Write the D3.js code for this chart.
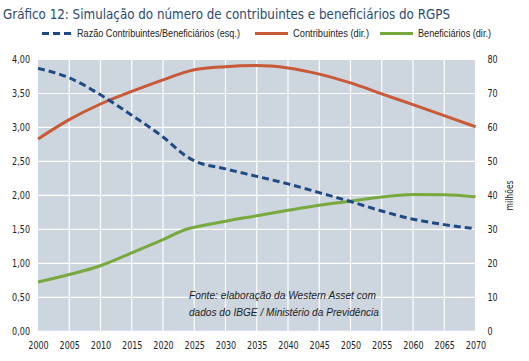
<!DOCTYPE html>
<html>
<head>
<meta charset="utf-8">
<script src="https://cdn.jsdelivr.net/npm/d3@7"></script>
<style>
  body { margin: 0; background: #fff; }
  svg text { font-family: "Liberation Sans", Arial, sans-serif; }
</style>
</head>
<body>
<div id="chart"></div>
<script>
// anos e series
var years = [2000, 2005, 2010, 2015, 2020, 2024, 2025, 2030, 2035, 2040, 2045, 2050, 2055, 2060, 2065, 2070];
var razao = [3.87, 3.73, 3.48, 3.18, 2.86, 2.56, 2.51, 2.39, 2.28, 2.17, 2.04, 1.91, 1.77, 1.65, 1.57, 1.51];
var contribuintes = [56.6, 62.3, 66.9, 70.6, 74.0, 76.5, 77.0, 77.9, 78.2, 77.5, 75.7, 73.1, 69.9, 66.7, 63.5, 60.2];
var beneficiarios = [14.5, 16.7, 19.3, 23.1, 27.0, 30.2, 30.6, 32.4, 34.0, 35.6, 37.1, 38.3, 39.5, 40.3, 40.2, 39.6];

var xTicks = d3.range(2000, 2071, 5);
var leftTicks = d3.range(0, 4.01, 0.5);
var rightTicks = d3.range(0, 81, 10);

var width = 529, height = 361;
var margin = {top: 59.5, right: 53.5, bottom: 29.5, left: 38};
var narrow = "'DejaVu Sans Condensed', sans-serif";

var svg = d3.select("#chart").append("svg")
    .attr("width", width)
    .attr("height", height);

var x = d3.scaleLinear().domain([2000, 2070]).range([margin.left, width - margin.right]);
var yL = d3.scaleLinear().domain([0, 4]).range([height - margin.bottom - 0.2, margin.top]);
var yR = d3.scaleLinear().domain([0, 80]).range([height - margin.bottom - 0.2, margin.top]);

// titulo
svg.append("text")
    .attr("x", 3).attr("y", 19)
    .attr("fill", "#2b4a6f")
    .style("font-family", narrow)
    .style("font-size", "14.5px")
    .attr("textLength", 447).attr("lengthAdjust", "spacingAndGlyphs")
    .text("Gráfico 12: Simulação do número de contribuintes e beneficiários do RGPS");

// fundo da area do grafico
svg.append("rect")
    .attr("x", x(2000)).attr("y", yL(4))
    .attr("width", x(2070) - x(2000))
    .attr("height", yL(0) - yL(4))
    .attr("fill", "#cdd5de");

// grade
svg.append("g").selectAll("line").data(xTicks.slice(1)).enter().append("line")
    .attr("x1", d => x(d)).attr("x2", d => x(d))
    .attr("y1", yL(4)).attr("y2", yL(0))
    .attr("stroke", "#fff").attr("stroke-width", 1.2);

svg.append("g").selectAll("line").data(leftTicks).enter().append("line")
    .attr("x1", x(2000)).attr("x2", x(2070) + 2)
    .attr("y1", d => yL(d)).attr("y2", d => yL(d))
    .attr("stroke", "#fff").attr("stroke-width", 1.2);

// eixos
var xAxis = svg.append("g")
    .attr("transform", "translate(0," + yL(0) + ")")
    .call(d3.axisBottom(x).tickValues(xTicks).tickFormat(d3.format("d")).tickSize(0).tickPadding(10));
var leftAxis = svg.append("g")
    .attr("transform", "translate(" + (x(2000) - 8) + ",0)")
    .call(d3.axisLeft(yL).tickValues(leftTicks).tickFormat(d => d3.format(".2f")(d).replace(".", ",")).tickSize(0).tickPadding(0));
var rightAxis = svg.append("g")
    .attr("transform", "translate(" + (x(2070) + 12) + ",0)")
    .call(d3.axisRight(yR).tickValues(rightTicks).tickSize(0).tickPadding(0));

[xAxis, leftAxis, rightAxis].forEach(function(g) {
    g.select(".domain").remove();
    g.selectAll("text").attr("fill", "#222").style("font-size", "10.5px")
        .style("font-family", narrow)
        .each(function() {
            // letra mais estreita, como no original
            var w = this.getComputedTextLength();
            d3.select(this).attr("textLength", w * 0.85).attr("lengthAdjust", "spacingAndGlyphs");
        });
});

svg.append("text")
    .attr("transform", "translate(513," + yR(40) + ") rotate(-90)")
    .attr("text-anchor", "middle")
    .attr("fill", "#222")
    .style("font-family", narrow)
    .style("font-size", "11px")
    .attr("textLength", 30).attr("lengthAdjust", "spacingAndGlyphs")
    .text("milhões");

// linhas
var idx = d3.range(years.length);
function lineFor(arr, scale) {
    return d3.line().x(i => x(years[i])).y(i => scale(arr[i])).curve(d3.curveMonotoneX)(idx);
}

svg.append("path").attr("d", lineFor(beneficiarios, yR))
    .attr("fill", "none").attr("stroke", "#78a93e").attr("stroke-width", 3);
svg.append("path").attr("d", lineFor(contribuintes, yR))
    .attr("fill", "none").attr("stroke", "#c95a38").attr("stroke-width", 3);
svg.append("path").attr("d", lineFor(razao, yL))
    .attr("fill", "none").attr("stroke", "#1e4a85").attr("stroke-width", 3)
    .attr("stroke-dasharray", "7,4");

// legenda
var legend = [
    {label: "Razão Contribuintes/Beneficiários (esq.)", color: "#1e4a85", dash: "7,4", x0: 42, x1: 72, w: 163},
    {label: "Contribuintes (dir.)", color: "#c95a38", dash: null, x0: 255, x1: 288, w: 76},
    {label: "Beneficiários (dir.)", color: "#78a93e", dash: null, x0: 380, x1: 413, w: 73}
];
var lg = svg.append("g").selectAll("g").data(legend).enter().append("g");
lg.append("line")
    .attr("x1", d => d.x0).attr("x2", d => d.x1)
    .attr("y1", 33.5).attr("y2", 33.5)
    .attr("stroke", d => d.color).attr("stroke-width", 3)
    .attr("stroke-dasharray", d => d.dash);
lg.append("text")
    .attr("x", d => d.x1 + 5).attr("y", 37)
    .attr("fill", "#222")
    .style("font-size", "10.5px")
    .attr("textLength", d => d.w).attr("lengthAdjust", "spacingAndGlyphs")
    .text(d => d.label);

// fonte
var fonte = svg.append("g")
    .attr("fill", "#222")
    .style("font-size", "11.5px")
    .style("font-style", "italic");
fonte.append("text").attr("x", 189).attr("y", 299)
    .attr("textLength", 187).attr("lengthAdjust", "spacingAndGlyphs")
    .text("Fonte: elaboração da Western Asset com");
fonte.append("text").attr("x", 189).attr("y", 316)
    .attr("textLength", 190).attr("lengthAdjust", "spacingAndGlyphs")
    .text("dados do IBGE / Ministério da Previdência");
</script>
</body>
</html>
